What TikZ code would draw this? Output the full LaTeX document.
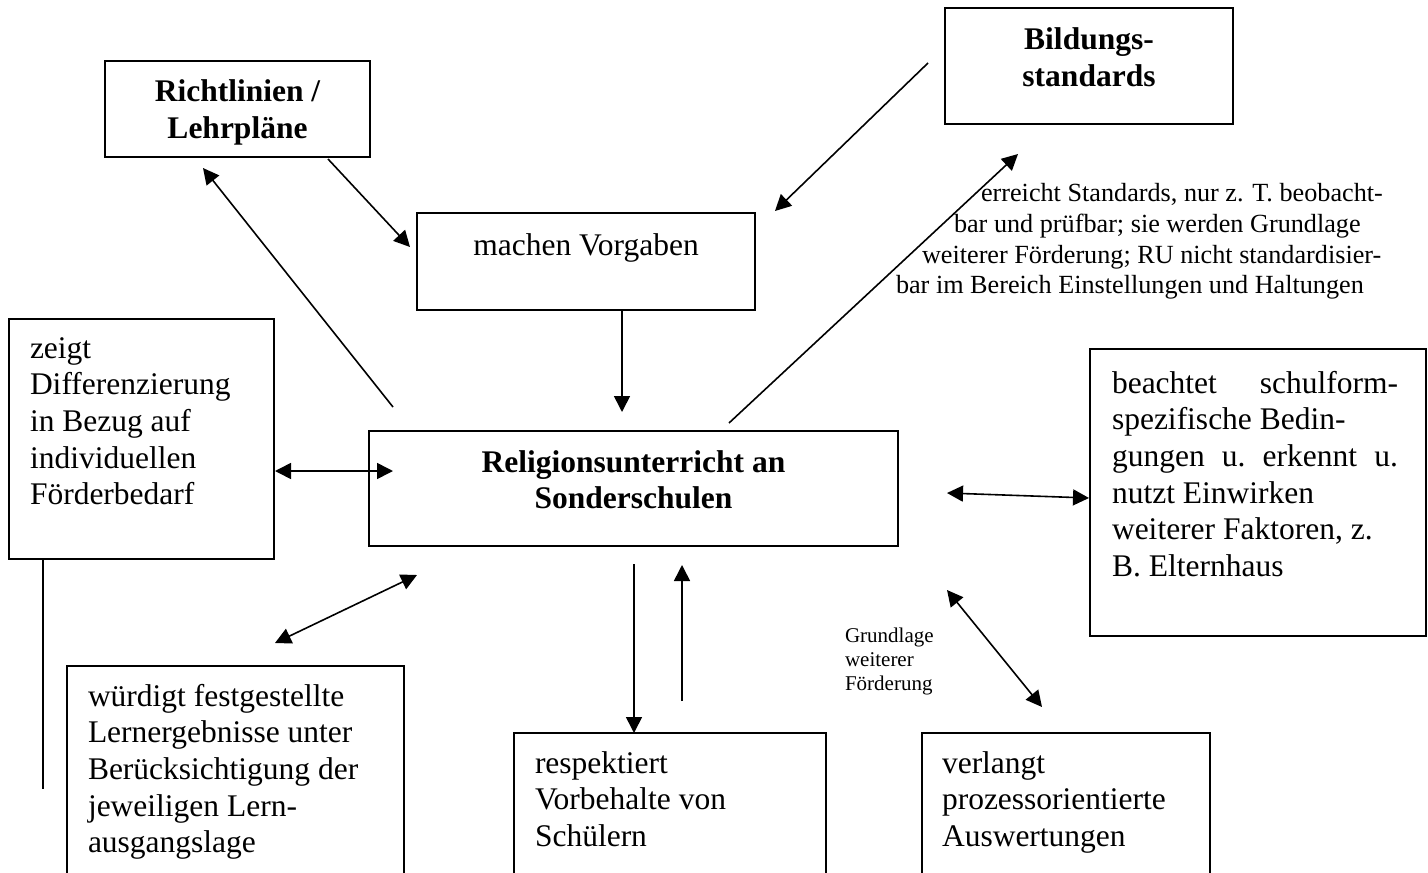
\documentclass[tikz,border=0pt]{standalone}
\usepackage{fontspec}
\setmainfont{Liberation Serif}
\usetikzlibrary{arrows.meta}

\begin{document}
\begin{tikzpicture}[x=0.5pt,y=-0.5pt,
    every node/.style={inner sep=0pt,outer sep=0pt},
    kasten/.style={draw=black,line width=1pt,anchor=north west},
    txt/.style={anchor=base west,align=flush left,text width=160pt,font=\fontsize{15.75}{18.35}\selectfont},
    titel/.style={anchor=base,align=flush center,text width=200pt,font=\fontsize{15.75}{18.35}\selectfont\bfseries},
    klein/.style={anchor=base west,align=left,font=\fontsize{13.1}{15.35}\selectfont},
    winzig/.style={anchor=base west,align=flush left,text width=60pt,font=\fontsize{10.5}{12.1}\selectfont},
    pfeil/.style={line width=0.8pt,-{Triangle[length=8pt,width=8pt]}},
    doppel/.style={line width=0.8pt,{Triangle[length=8pt,width=8pt]}-{Triangle[length=8pt,width=8pt]}},]
        \newcommand{\px}{0.5pt}
        \useasboundingbox (0,0) rectangle (1428,872);
        \clip (0,0) rectangle (1428,872);
        % Kaesten
        \node[kasten,minimum width=265*\px,minimum height=96*\px] (richt) at (105,61) {};
        \node[kasten,minimum width=288*\px,minimum height=116*\px] (bild) at (945,8) {};
        \node[kasten,minimum width=338*\px,minimum height=97*\px] (vorg) at (417,213) {};
        \node[kasten,minimum width=265*\px,minimum height=240*\px] (zeig) at (9,319) {};
        \node[kasten,minimum width=529*\px,minimum height=115*\px] (relig) at (369,431) {};
        \node[kasten,minimum width=336*\px,minimum height=287*\px] (beach) at (1090,349) {};
        \node[kasten,minimum width=337*\px,minimum height=240*\px] (wuerd) at (67,666) {};
        \node[kasten,minimum width=312*\px,minimum height=170*\px] (resp) at (514,733) {};
        \node[kasten,minimum width=288*\px,minimum height=170*\px] (verl) at (922,733) {};
        % Texte
        \node[titel] (richt-t) at (237.5,102) {Richtlinien /\\Lehrpläne};
        \node[titel] (bild-t) at (1089,50) {Bildungs-\\standards};
        \node[titel] (relig-t) at (633.5,472) {Religionsunterricht an\\Sonderschulen};
        \node[txt,anchor=base,align=flush center] (vorg-t) at (586,255) {machen Vorgaben};
        \node[txt] (zeig-t) at (30,358) {zeigt\\Differenzierung\\in Bezug auf\\individuellen\\Förderbedarf};
        \node[txt,text width=143pt] (beach-t) at (1112,393) {beachtet\hfill schulform-\\spezifische Bedin-\\gungen\hfill u.\hfill erkennt\hfill u.\\nutzt Einwirken\\weiterer Faktoren, z.\\B. Elternhaus};
        \node[txt] (wuerd-t) at (88,706) {würdigt festgestellte\\Lernergebnisse unter\\Berücksichtigung der\\jeweiligen Lern-\\ausgangslage};
        \node[txt] (resp-t) at (535,773) {respektiert\\Vorbehalte von\\Schülern};
        \node[txt] (verl-t) at (942,773) {verlangt\\prozessorientierte\\Auswertungen};
        \node[klein] (anm1) at (981,201) {erreicht Standards, nur z. T. beobacht-};
        \node[klein] (anm2) at (954,232) {bar und prüfbar; sie werden Grundlage};
        \node[klein] (anm3) at (922,263) {weiterer Förderung; RU nicht standardisier-};
        \node[klein] (anm4) at (896,293) {bar im Bereich Einstellungen und Haltungen};
        \node[winzig] (grund) at (845,642) {Grundlage\\weiterer\\Förderung};
        % Pfeile
        \coordinate (a1) at (393,407);  \coordinate (b1) at (203,168);
        \coordinate (a2) at (328,159);  \coordinate (b2) at (410,247);
        \coordinate (a3) at (928,63);   \coordinate (b3) at (775,211);
        \coordinate (a4) at (622,310);  \coordinate (b4) at (622,412);
        \coordinate (a5) at (729,423);  \coordinate (b5) at (1018,154);
        \coordinate (a6) at (275,471);  \coordinate (b6) at (393,471);
        \coordinate (a7) at (947,493);  \coordinate (b7) at (1089,498);
        \coordinate (a8) at (275,643);  \coordinate (b8) at (417,575);
        \coordinate (a9) at (634,564);  \coordinate (b9) at (634,733);
        \coordinate (a10) at (682,701); \coordinate (b10) at (682,565);
        \coordinate (a11) at (947,590); \coordinate (b11) at (1042,707);
        \coordinate (a12) at (43,559);  \coordinate (b12) at (43,789);
        \draw[pfeil] (a1) -- (b1);
        \draw[pfeil] (a2) -- (b2);
        \draw[pfeil] (a3) -- (b3);
        \draw[pfeil] (a4) -- (b4);
        \draw[pfeil] (a5) -- (b5);
        \draw[doppel] (a6) -- (b6);
        \draw[doppel] (a7) -- (b7);
        \draw[doppel] (a8) -- (b8);
        \draw[pfeil] (a9) -- (b9);
        \draw[pfeil] (a10) -- (b10);
        \draw[doppel] (a11) -- (b11);
        \draw[line width=0.8pt] (a12) -- (b12);
\end{tikzpicture}
\end{document}
